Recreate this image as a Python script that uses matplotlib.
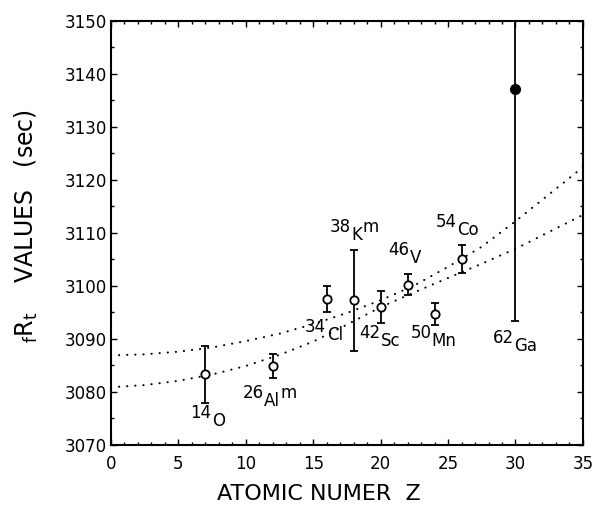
import matplotlib
matplotlib.use('Agg')
import matplotlib.pyplot as plt
from matplotlib.ticker import MultipleLocator

# superallowed emitters (open symbols)
Z = [7, 12, 16, 18, 20, 22, 24, 26]
ft = [3083.3, 3084.9, 3097.5, 3097.3, 3096.1, 3100.2, 3094.7, 3105.1]
ft_err = [5.4, 2.3, 2.5, 9.5, 3.0, 2.0, 2.0, 2.6]

# 62Ga (filled symbol)
Z_ga = [30]
ft_ga = [3137.2]
ft_ga_err = [43.9]

# nuclide labels
mass = ['14', '26', '34', '38', '42', '46', '50', '54', '62']
elem = ['O', 'Al', 'Cl', 'K', 'Sc', 'V', 'Mn', 'Co', 'Ga']
isomer = ['', 'm', '', 'm', '', '', '', '', '']
lab_x = [5.9, 9.75, 14.4, 16.2, 18.4, 20.6, 22.2, 24.1, 28.3]
lab_y = [3075.1, 3078.9, 3091.3, 3110.2, 3090.2, 3105.8, 3090.2, 3111.1, 3089.2]

# dotted curves
z_curve = [0, 2.5, 5, 7.5, 10, 12.5, 15, 17.5, 20, 22.5, 25, 27.5, 30, 32.5, 35]
upper = [3086.9, 3087.1, 3087.6, 3088.4, 3089.6, 3091.0, 3092.8, 3094.9,
         3097.3, 3100.1, 3103.6, 3107.4, 3112.2, 3117.3, 3122.4]
lower = [3080.9, 3081.3, 3082.1, 3083.3, 3084.9, 3087.0, 3089.5, 3092.7,
         3096.0, 3098.8, 3101.5, 3104.2, 3107.0, 3110.2, 3113.4]

fig = plt.figure(figsize=(5.93, 5.08), dpi=100)
ax = fig.add_axes([0.187, 0.124, 0.796, 0.835])

dots = (0, (0.1, 3.8))
ax.plot(z_curve, upper, color='black', lw=1.5, ls=dots, dash_capstyle='round')
ax.plot(z_curve, lower, color='black', lw=1.5, ls=dots, dash_capstyle='round')

ax.errorbar(Z, ft, yerr=ft_err, fmt='none', ecolor='black', elinewidth=1.3,
            capsize=3, capthick=1.3, zorder=3)
ax.plot(Z, ft, 'o', mfc='white', mec='black', ms=6, mew=1.3, zorder=4)
ax.errorbar(Z_ga, ft_ga, yerr=ft_ga_err, fmt='none', ecolor='black',
            elinewidth=1.3, capsize=3, capthick=1.3, zorder=3)
ax.plot(Z_ga, ft_ga, 'o', color='black', ms=7, zorder=4)

fs = 12
for i in range(len(mass)):
    t = ax.text(lab_x[i], lab_y[i], mass[i], fontsize=fs, ha='left', va='baseline')
    e = ax.annotate(elem[i], xy=(1, 0), xycoords=t, xytext=(0.3, -3),
                    textcoords='offset points', fontsize=fs, ha='left', va='baseline')
    if isomer[i]:
        ax.annotate(isomer[i], xy=(1, 0), xycoords=(e, t), xytext=(0.3, 0),
                    textcoords='offset points', fontsize=fs, ha='left', va='bottom')

ax.set_xlim(0, 35)
ax.set_ylim(3070, 3150)
ax.xaxis.set_major_locator(MultipleLocator(5))
ax.xaxis.set_minor_locator(MultipleLocator(1))
ax.yaxis.set_major_locator(MultipleLocator(10))
ax.yaxis.set_minor_locator(MultipleLocator(5))
ax.tick_params(which='both', direction='in', top=True, right=True, labelsize=12)
ax.tick_params(which='major', length=4, width=1)
ax.tick_params(which='minor', length=2.5, width=1)
ax.tick_params(axis='x', pad=7)
ax.tick_params(axis='y', pad=3)
for s in ax.spines.values():
    s.set_linewidth(1.5)

ax.set_xlabel('ATOMIC NUMER  Z', fontsize=16)
ax.xaxis.set_label_coords(0.44, -0.092)
ax.set_ylabel(r'$\mathregular{{}_{f}R_{t}}$    VALUES   (sec)', fontsize=17)
ax.yaxis.set_label_coords(-0.15, 0.517)

fig.savefig('out.png', dpi=100)
